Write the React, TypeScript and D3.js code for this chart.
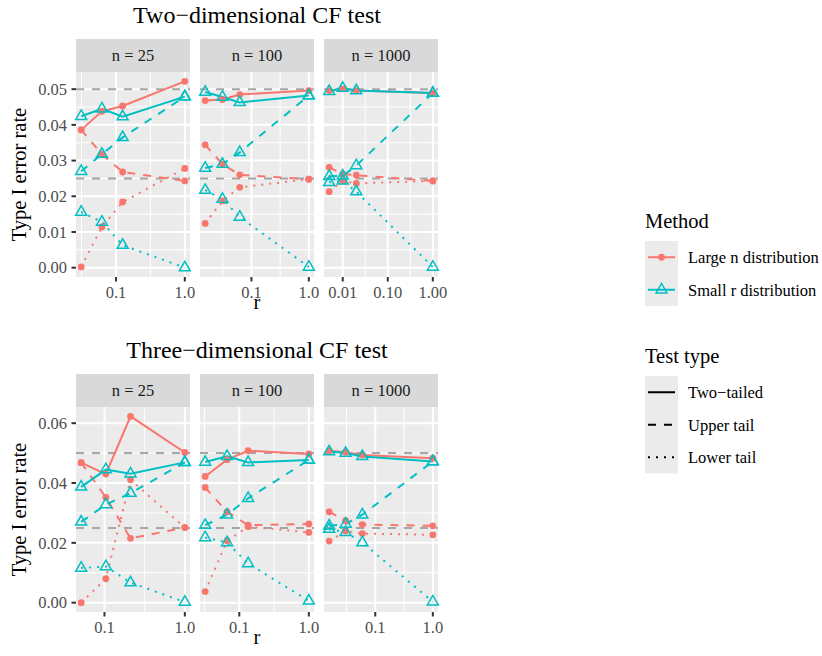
import React from "react";
import * as d3 from "d3";

const panelLabels = ["n = 25", "n = 100", "n = 1000"];
const methods = ["Large n distribution", "Small r distribution"];
const testTypes = ["Two\u2212tailed", "Upper tail", "Lower tail"];
const titles = ["Two\u2212dimensional CF test", "Three\u2212dimensional CF test"];

// r values per panel (n = 25, 100, 1000)
const r2D = [
  [0.03125, 0.0625, 0.125, 1],
  [0.015625, 0.03125, 0.0625, 1],
  [0.005, 0.01, 0.02, 1],
];
const r3D = [
  [0.0513, 0.104, 0.211, 1],
  [0.0323, 0.0667, 0.134, 1],
  [0.0158, 0.0305, 0.0596, 1],
];

// Two-dimensional test, error rates per panel
const large2D_two = [[0.0386, 0.0438, 0.0453, 0.0522], [0.0468, 0.0471, 0.0485, 0.0496], [0.0496, 0.0501, 0.0496, 0.0489]];
const large2D_upper = [[0.0386, 0.0318, 0.0268, 0.0243], [0.0344, 0.029, 0.026, 0.0248], [0.0281, 0.0262, 0.0259, 0.0243]];
const large2D_lower = [[0.0002, 0.0114, 0.0184, 0.0278], [0.0124, 0.0187, 0.0225, 0.0248], [0.0213, 0.0243, 0.0236, 0.0243]];
const small2D_two = [[0.0424, 0.0445, 0.0423, 0.0479], [0.0492, 0.0478, 0.0463, 0.0482], [0.0494, 0.0503, 0.0496, 0.0489]];
const small2D_upper = [[0.027, 0.0318, 0.0365, 0.0479], [0.0279, 0.029, 0.0323, 0.0482], [0.0256, 0.0257, 0.0286, 0.0489]];
const small2D_lower = [[0.0156, 0.0128, 0.0063, 0.0], [0.0217, 0.0192, 0.0142, 0.0002], [0.0239, 0.0243, 0.0213, 0.0002]];

// Three-dimensional test
const large3D_two = [[0.0468, 0.043, 0.0623, 0.0502], [0.0422, 0.0478, 0.0508, 0.0497], [0.0508, 0.0503, 0.0494, 0.0483]];
const large3D_upper = [[0.0468, 0.0352, 0.0215, 0.0251], [0.0385, 0.0304, 0.0259, 0.0263], [0.0304, 0.0274, 0.0261, 0.0257]];
const large3D_lower = [[0.0, 0.008, 0.0411, 0.0251], [0.0037, 0.0207, 0.0254, 0.0235], [0.0206, 0.024, 0.0231, 0.0227]];
const small3D_two = [[0.0387, 0.0445, 0.0431, 0.0469], [0.047, 0.0489, 0.0469, 0.0477], [0.0505, 0.05, 0.0489, 0.0472]];
const small3D_upper = [[0.027, 0.0328, 0.0366, 0.0469], [0.0259, 0.0294, 0.0349, 0.0477], [0.0257, 0.0263, 0.0294, 0.0472]];
const small3D_lower = [[0.0116, 0.0121, 0.0067, 0.0002], [0.0218, 0.0201, 0.0131, 0.0006], [0.0246, 0.0235, 0.0201, 0.0003]];

const refLines = [0.05, 0.025];
const xTicks2D = [[0.1, 1], [0.1, 1], [0.01, 0.1, 1]];
const xTickLabels2D = [["0.1", "1.0"], ["0.1", "1.0"], ["0.01", "0.10", "1.00"]];
const xTicks3D = [[0.1, 1], [0.1, 1], [0.1, 1]];
const xTickLabels3D = [["0.1", "1.0"], ["0.1", "1.0"], ["0.1", "1.0"]];
const yTicks2D = [0, 0.01, 0.02, 0.03, 0.04, 0.05];
const yTicks3D = [0, 0.02, 0.04, 0.06];

const colors = ["#F8766D", "#00BFC4"];
const dashes = [null, "8,8", "2,6"];
const FONT = "'Liberation Serif', 'Times New Roman', serif";

const panelX = [[76, 190], [200, 314], [324, 438]];

const triangle = d3.symbol(d3.symbolTriangle, 52)() as string;

function logMinor(ticks: number[], domain: number[]) {
  const lt = ticks.map(Math.log10);
  const ext = [lt[0] - 1, ...lt, lt[lt.length - 1] + 1];
  const out: number[] = [];
  for (let i = 0; i < ext.length - 1; i++) {
    const v = Math.pow(10, (ext[i] + ext[i + 1]) / 2);
    if (v >= domain[0] && v <= domain[1]) out.push(v);
  }
  return out;
}

function Chart({ top, title, rs, series, xTicks, xLabels, yTicks }: any) {
  const stripTop = top + 16;
  const stripH = 33;
  const pTop = stripTop + stripH;
  const pBot = pTop + 205;
  const all = series.flatMap((s: any) => s.values.flat());
  const ymin = d3.min(all) as number;
  const ymax = d3.max(all) as number;
  const ypad = (ymax - ymin) * 0.05;
  const y = d3.scaleLinear().domain([ymin - ypad, ymax + ypad]).range([pBot, pTop]);
  const yMinor = yTicks.slice(0, -1).map((t: number, i: number) => (t + yTicks[i + 1]) / 2);
  const step = yTicks[1] - yTicks[0];
  const lastMid = yTicks[yTicks.length - 1] + step / 2;
  if (lastMid <= y.domain()[1]) yMinor.push(lastMid);

  return (
    <g>
      <text x={257} y={top} textAnchor="middle" fontSize={24} fill="#000">{title}</text>
      {panelX.map(([x0, x1], p) => {
        const r = rs[p];
        const lo = Math.log10(d3.min(r) as number);
        const hi = Math.log10(d3.max(r) as number);
        const pad = (hi - lo) * 0.05;
        const x = d3.scaleLog().domain([Math.pow(10, lo - pad), Math.pow(10, hi + pad)]).range([x0, x1]);
        const xMinor = logMinor(xTicks[p], x.domain());
        const line = d3.line<number>().x((_, i) => x(r[i])).y((v) => y(v));
        return (
          <g key={p}>
            <rect x={x0} y={stripTop} width={x1 - x0} height={stripH} fill="#D9D9D9" />
            <text x={(x0 + x1) / 2} y={stripTop + stripH / 2} dy="0.35em" textAnchor="middle" fontSize={16.5} fill="#1A1A1A">{panelLabels[p]}</text>
            <rect x={x0} y={pTop} width={x1 - x0} height={pBot - pTop} fill="#EBEBEB" />
            {yMinor.map((t: number) => (
              <line key={"ym" + t} x1={x0} x2={x1} y1={y(t)} y2={y(t)} stroke="#fff" strokeWidth={1} />
            ))}
            {xMinor.map((t) => (
              <line key={"xm" + t} x1={x(t)} x2={x(t)} y1={pTop} y2={pBot} stroke="#fff" strokeWidth={1} />
            ))}
            {yTicks.map((t: number) => (
              <line key={"y" + t} x1={x0} x2={x1} y1={y(t)} y2={y(t)} stroke="#fff" strokeWidth={2} />
            ))}
            {xTicks[p].map((t: number) => (
              <line key={"x" + t} x1={x(t)} x2={x(t)} y1={pTop} y2={pBot} stroke="#fff" strokeWidth={2} />
            ))}
            {refLines.map((h) => (
              <line key={"h" + h} x1={x0} x2={x1} y1={y(h)} y2={y(h)} stroke="#A6A6A6" strokeWidth={2} strokeDasharray="8,8" />
            ))}
            {series.map((s: any, si: number) => (
              <path key={"l" + si} d={line(s.values[p]) as string} fill="none" stroke={colors[s.m]}
                strokeWidth={2} strokeDasharray={dashes[s.t] ?? undefined} />
            ))}
            {series.map((s: any, si: number) =>
              s.values[p].map((v: number, i: number) =>
                s.m === 0 ? (
                  <circle key={"c" + si + "-" + i} cx={x(r[i])} cy={y(v)} r={3.4} fill={colors[0]} />
                ) : (
                  <path key={"t" + si + "-" + i} d={triangle} transform={`translate(${x(r[i])},${y(v)})`}
                    fill="none" stroke={colors[1]} strokeWidth={1.5} />
                )
              )
            )}
            {xTicks[p].map((t: number, i: number) => (
              <g key={"xt" + t}>
                <line x1={x(t)} x2={x(t)} y1={pBot} y2={pBot + 4.5} stroke="#333" strokeWidth={2} />
                <text x={x(t)} y={pBot + 20.5} textAnchor="middle" fontSize={16.5} fill="#4D4D4D">{xLabels[p][i]}</text>
              </g>
            ))}
          </g>
        );
      })}
      {yTicks.map((t: number) => (
        <g key={"yt" + t}>
          <line x1={71.5} x2={76} y1={y(t)} y2={y(t)} stroke="#333" strokeWidth={2} />
          <text x={67} y={y(t)} dy="0.35em" textAnchor="end" fontSize={16.5} fill="#4D4D4D">{t.toFixed(2)}</text>
        </g>
      ))}
      <text transform={`translate(26,${(pTop + pBot) / 2}) rotate(-90)`} textAnchor="middle" fontSize={20.5} fill="#000">Type I error rate</text>
      <text x={257} y={pBot + 32} textAnchor="middle" fontSize={20.5} fill="#000">r</text>
    </g>
  );
}

function makeSeries(two: number[][], upper: number[][], lower: number[][], m: number) {
  return [
    { m, t: 0, values: two },
    { m, t: 1, values: upper },
    { m, t: 2, values: lower },
  ];
}

export default function App() {
  const s2D = [
    ...makeSeries(large2D_two, large2D_upper, large2D_lower, 0),
    ...makeSeries(small2D_two, small2D_upper, small2D_lower, 1),
  ];
  const s3D = [
    ...makeSeries(large3D_two, large3D_upper, large3D_lower, 0),
    ...makeSeries(small3D_two, small3D_upper, small3D_lower, 1),
  ];
  const keyX0 = 645;
  const keyW = 33;
  const keyH = 32.5;
  const methodTop = 241;
  const typeTop = 376;
  return (
    <div style={{ position: "absolute", left: 0, top: 0 }}>
      <svg width={822} height={656} style={{ display: "block", fontFamily: FONT }}>
        <rect width={822} height={656} fill="#fff" />
        <Chart top={23} title={titles[0]} rs={r2D} series={s2D} xTicks={xTicks2D} xLabels={xTickLabels2D} yTicks={yTicks2D} />
        <Chart top={358} title={titles[1]} rs={r3D} series={s3D} xTicks={xTicks3D} xLabels={xTickLabels3D} yTicks={yTicks3D} />

        <text x={keyX0} y={228} fontSize={20.5} fill="#000">Method</text>
        <rect x={keyX0} y={methodTop} width={keyW} height={keyH * methods.length} fill="#EBEBEB" />
        {methods.map((m, i) => {
          const cy = methodTop + keyH * (i + 0.5);
          return (
            <g key={m}>
              <line x1={keyX0 + 3} x2={keyX0 + keyW - 3} y1={cy} y2={cy} stroke={colors[i]} strokeWidth={2} />
              {i === 0 ? (
                <circle cx={keyX0 + keyW / 2} cy={cy} r={3.4} fill={colors[0]} />
              ) : (
                <path d={triangle} transform={`translate(${keyX0 + keyW / 2},${cy})`} fill="none" stroke={colors[1]} strokeWidth={1.5} />
              )}
              <text x={688} y={cy} dy="0.35em" fontSize={16.5} fill="#000">{m}</text>
            </g>
          );
        })}

        <text x={keyX0} y={363} fontSize={20.5} fill="#000">Test type</text>
        <rect x={keyX0} y={typeTop} width={keyW} height={keyH * testTypes.length} fill="#EBEBEB" />
        {testTypes.map((t, i) => {
          const cy = typeTop + keyH * (i + 0.5);
          return (
            <g key={t}>
              <line x1={keyX0 + 3} x2={keyX0 + keyW - 3} y1={cy} y2={cy} stroke="#000" strokeWidth={2}
                strokeDasharray={dashes[i] ?? undefined} />
              <text x={688} y={cy} dy="0.35em" fontSize={16.5} fill="#000">{t}</text>
            </g>
          );
        })}
      </svg>
    </div>
  );
}
